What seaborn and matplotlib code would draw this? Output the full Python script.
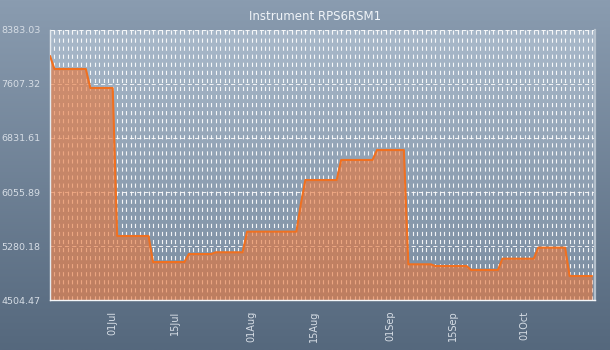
import numpy as np
import pandas as pd
import matplotlib
matplotlib.use("Agg")
import matplotlib.pyplot as plt
import matplotlib.dates as mdates
import seaborn as sns
from matplotlib.colors import LinearSegmentedColormap

# Daily closing levels for the instrument
start_date = "2014-06-17"
end_date = "2014-10-16"
prices = [
    8010,
    7823, 7823, 7823, 7823, 7823, 7823, 7823, 7823,
    7550, 7550, 7550, 7550, 7550, 7550,
    5424, 5424, 5424, 5424, 5424, 5424, 5424, 5424,
    5050, 5050, 5050, 5050, 5050, 5050, 5050, 5050,
    5165, 5165, 5165, 5165, 5165, 5165,
    5190, 5190, 5190, 5190, 5190, 5190, 5190,
    5486, 5486, 5486, 5486, 5486, 5486, 5486, 5486, 5486, 5486, 5486, 5486,
    5883,
    6228, 6228, 6228, 6228, 6228, 6228, 6228, 6228,
    6516, 6516, 6516, 6516, 6516, 6516, 6516, 6516,
    6659, 6659, 6659, 6659, 6659, 6659, 6659,
    5017, 5017, 5017, 5017, 5017, 5017,
    4993, 4993, 4993, 4993, 4993, 4993, 4993, 4993,
    4936, 4936, 4936, 4936, 4936, 4936, 4936,
    5098, 5098, 5098, 5098, 5098, 5098, 5098, 5098,
    5256, 5256, 5256, 5256, 5256, 5256, 5256,
    4849, 4849, 4849, 4849, 4849, 4849,
]
y_ticks = [4504.47, 5280.18, 6055.89, 6831.61, 7607.32, 8383.03]
x_tick_dates = ["2014-07-01", "2014-07-15", "2014-08-01", "2014-08-15",
                "2014-09-01", "2014-09-15", "2014-10-01"]
x_tick_labels = ["01Jul", "15Jul", "01Aug", "15Aug", "01Sep", "15Sep", "01Oct"]
title = "Instrument RPS6RSM1"

days = pd.date_range(start_date, end_date, freq="D")
df = pd.DataFrame({"date": days, "price": prices})

sns.set_theme(style="white")
plt.rcParams["font.family"] = ["DejaVu Sans"]
plt.rcParams["lines.scale_dashes"] = False

W, H = 610, 350
fig = plt.figure(figsize=(W / 100, H / 100), dpi=100)

# figure background gradient
grad = np.linspace(0, 1, 256).reshape(-1, 1)
fig_cmap = LinearSegmentedColormap.from_list("figbg", ["#8a9cb0", "#55687d"])
bg = fig.add_axes([0, 0, 1, 1], zorder=-10)
bg.imshow(grad, aspect="auto", cmap=fig_cmap, extent=[0, 1, 0, 1])
bg.axis("off")

pos = [50 / W, 50 / H, 545 / W, 270 / H]
# plot-area gradient
pa = fig.add_axes(pos, zorder=-5)
pa_cmap = LinearSegmentedColormap.from_list("pabg", ["#a9b9ca", "#7a8ca0"])
pa.imshow(grad, aspect="auto", cmap=pa_cmap, extent=[0, 1, 0, 1])
pa.axis("off")

ax = fig.add_axes(pos)
ax.patch.set_alpha(0)

ymin, ymax = y_ticks[0], y_ticks[-1]
ax.fill_between(df["date"], df["price"], ymin, color="#e8763a", alpha=0.62,
                lw=0, zorder=2)
sns.lineplot(data=df, x="date", y="price", ax=ax, color="#f07020", lw=1.5,
             zorder=3)

ax.set_xlim(days[0], days[-1] + pd.Timedelta(hours=16))
ax.set_ylim(ymin, ymax)
ax.set_xlabel("")
ax.set_ylabel("")

ax.set_yticks(y_ticks)
ax.set_yticklabels([f"{v:.2f}" for v in y_ticks])
ax.xaxis.set_major_locator(
    plt.FixedLocator(mdates.date2num(pd.to_datetime(x_tick_dates))))
ax.set_xticklabels(x_tick_labels)
ax.xaxis.set_minor_locator(mdates.DayLocator())

txt = "#d6dde5"
ax.tick_params(axis="x", which="both", direction="out", length=3.6, width=0.8,
               color="#eef2f6", labelcolor=txt, labelsize=7, labelrotation=90,
               pad=4)
ax.tick_params(axis="y", which="both", direction="out", length=3.6, width=0.8,
               color="#eef2f6", labelcolor=txt, labelsize=6.8, pad=3.2)

ax.grid(False)
ax.grid(True, which="both", axis="x", color="white", alpha=0.9, lw=0.8,
        linestyle=(0, (3.0, 2.8)))
ax.grid(True, which="major", axis="y", color="white", alpha=0.85, lw=0.75,
        linestyle=(0, (3.0, 2.2)))

ax.spines["top"].set_visible(False)
ax.spines["left"].set_color("#e4e9ee")
ax.spines["left"].set_linewidth(1.0)
ax.spines["bottom"].set_color("#f4f6f8")
ax.spines["bottom"].set_linewidth(1.0)
ax.spines["right"].set_color("#b4c0cc")
ax.spines["right"].set_linewidth(1.6)

fig.text(315 / W, 1 - 17 / H, title, ha="center", va="center",
         fontsize=8.5, color="#f0f4f8")

fig.savefig("out.png", dpi=100)
